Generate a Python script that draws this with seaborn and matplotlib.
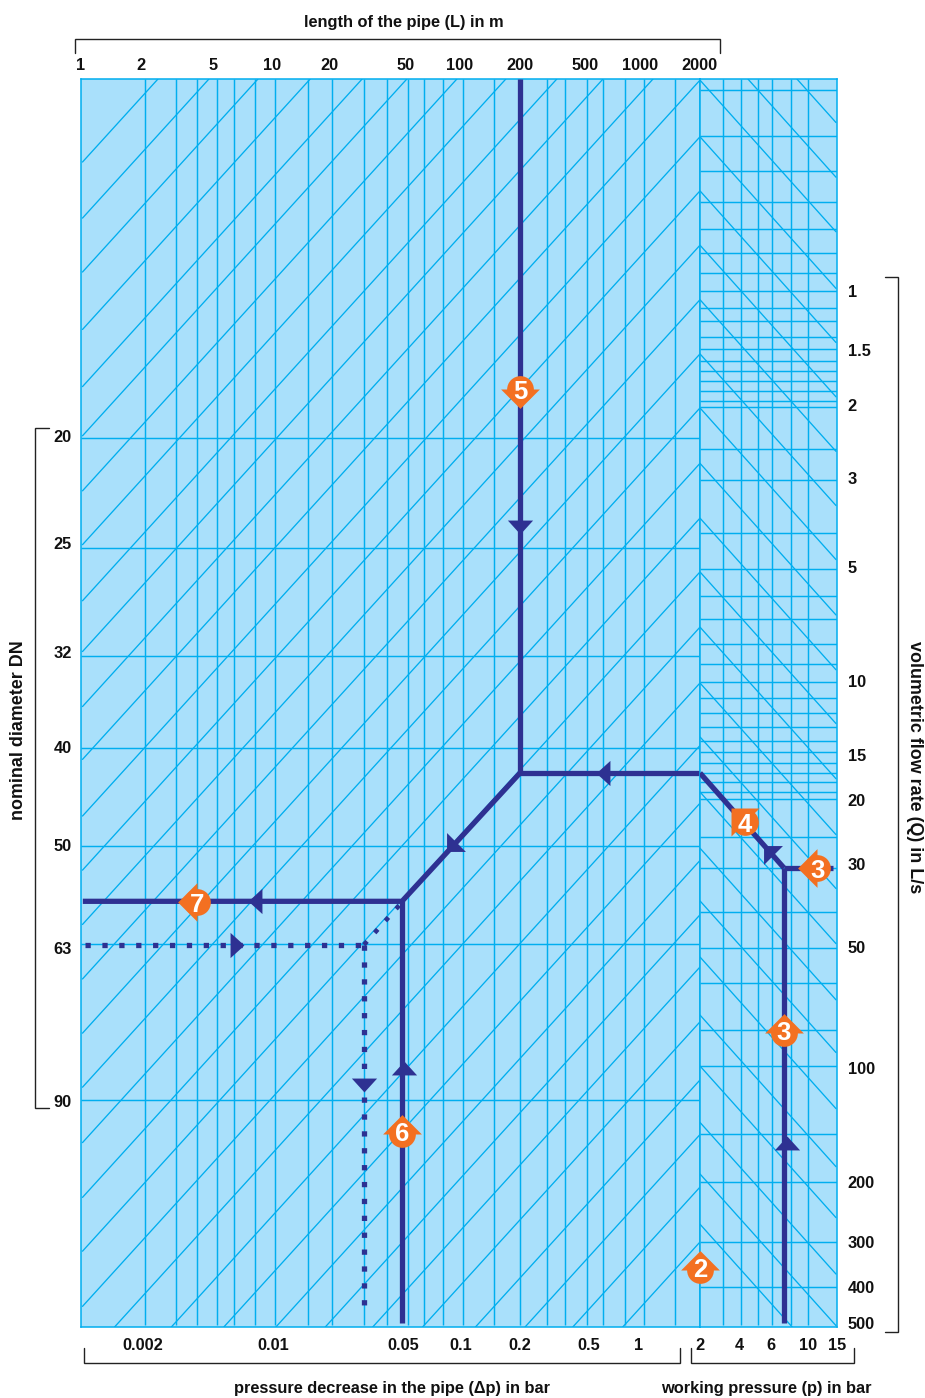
import numpy as np
import matplotlib
matplotlib.use("Agg")
import matplotlib.pyplot as plt
from matplotlib.lines import Line2D
import seaborn as sns

# ---- values ----
length_lines = [2, 3, 4, 5, 6, 8, 10, 15, 20, 30, 40, 50, 60, 80, 100, 150, 200, 300, 400, 500, 600, 800, 1000, 1500]
pressure_lines = [3, 4, 5, 6, 8, 10]
flow_lines = [0.3, 0.4, 0.5, 0.6, 0.7, 0.8, 0.9, 1, 1.1, 1.2, 1.3, 1.4, 1.5, 1.6, 1.7, 1.8, 1.9, 2, 2.5, 3, 4, 5, 6, 7, 8, 9,
              10, 11, 12, 13, 14, 15, 16, 17, 18, 19, 20, 25, 30, 40, 50, 60, 80, 100, 150, 200, 300, 400]
dn_flow_lines = [2.36, 4.39, 8.59, 14.6, 26.4, 48.8, 122.5]

diag_top_length = [2.37, 4.57, 8.27, 15.4, 29.3, 49.4, 93.4, 171, 351, 600, 1125]
diag_divider_flow = [0.282, 0.402, 0.562, 0.766, 1.05, 1.44, 2.01, 2.72, 3.69, 5.10, 7.31, 10.06, 14.4, 20.5, 28.7, 40.7,
                     55.2, 76.1, 108.7, 150.5, 207, 300]

right_top_pressure = [4.38, 8.65]
right_divider_flow = [0.282, 0.402, 0.562, 0.766, 1.05, 1.44, 2.01, 2.72, 3.69, 5.10, 7.31, 10.06, 13.7, 19, 26.7, 37.2,
                      52.4, 73, 100, 140, 190.6, 266]

length_labels = ["1", "2", "5", "10", "20", "50", "100", "200", "500", "1000", "2000"]
length_label_at = [1, 1.92, 4.78, 9.66, 19.3, 48.8, 96.6, 200, 490, 954, 1980]
dp_labels = ["0.002", "0.01", "0.05", "0.1", "0.2", "0.5", "1"]
dp_label_at = [1.96, 9.78, 47.4, 98, 200, 512, 943]
p_labels = ["2", "4", "6", "10", "15"]
p_label_at = [2, 3.9, 5.95, 10, 15]
flow_labels = ["1", "1.5", "2", "3", "5", "10", "15", "20", "30", "50", "100", "200", "300", "400", "500"]
flow_label_at = [1, 1.41, 1.96, 2.97, 4.94, 9.95, 15.3, 20.1, 29.3, 49.7, 101.4, 200, 300, 400, 489]
dn_labels = ["20", "25", "32", "40", "50", "63", "90"]
dn_label_at = [2.33, 4.26, 8.39, 14.5, 26.2, 50, 123]

# routes (length or pressure, flow)
route_right_h_p, route_right_h_q = [14.2, 7.2], [30, 30]
route_right_v_p, route_right_v_q = [7.2, 7.2], [30, 489]
route_right_d_p, route_right_d_q = [7.2, 2], [30, 17]
route_main_L = [2000, 200, 200]
route_main_Q = [17, 17, 0.28]
route_low_L = [1.02, 46.9, 200]
route_low_Q = [37.3, 37.3, 17]
route_down_L, route_down_Q = [46.9, 46.9], [37.3, 489]
dot_h_L, dot_h_Q = [1.045, 30], [49, 49]
dot_v_L, dot_v_Q = [30, 30], [49, 462]
dot_d_L, dot_d_Q = [30, 45.9], [49, 38.1]

# ---- nomogram scale knots: printed value -> position along the sheet ----
x_val = np.array([1, 2, 3, 4, 5, 6, 8, 10, 15, 20, 30, 40, 50, 60, 80, 100, 150, 200, 300, 400, 500, 600, 800, 1000, 1500, 2000], float)
x_pos = np.array([81, 145, 176, 197, 217, 234, 255, 275, 308, 332, 364, 387, 408, 424, 443, 463, 494, 520, 547, 565, 587, 603, 625, 644, 675, 700], float)
p_val = np.array([2, 3, 4, 5, 6, 8, 10, 15], float)
p_pos = np.array([700, 723, 741, 758, 772, 791, 808, 837], float)
y_val = np.array([0.28, 0.3, 0.4, 0.5, 0.6, 0.7, 0.8, 0.9, 1, 1.1, 1.2, 1.3, 1.4, 1.5, 1.6, 1.7, 1.8, 1.9, 2, 2.5, 3, 4, 5, 6, 7, 8, 9,
                  10, 11, 12, 13, 14, 15, 16, 17, 18, 19, 20, 25, 30, 40, 50, 60, 80, 100, 150, 200, 300, 400, 500], float)
y_pos = np.array([79, 90, 136, 171, 202, 229, 253, 273, 291, 308, 321, 337, 349, 361, 371, 381, 391, 401, 407, 449, 480, 533, 569, 596, 619, 644, 664,
                  682, 698, 713, 727, 741, 752, 763, 773, 782, 792, 799, 837, 868, 912, 948, 983, 1030, 1066, 1134, 1182, 1242, 1287, 1327], float)


def make_scale(vals, pos):
    lv = np.log10(vals)
    fwd = lambda v: np.interp(np.log10(np.maximum(np.asarray(v, float), 1e-9)), lv, pos)
    inv = lambda u: 10 ** np.interp(np.asarray(u, float), pos, lv)
    return fwd, inv


fx, ix = make_scale(x_val, x_pos)
fp, ip = make_scale(p_val, p_pos)
fy, iy = make_scale(y_val, y_pos)

sns.set_theme(style="white")
plt.rcParams["font.family"] = ["Liberation Sans", "DejaVu Sans"]
plt.rcParams["font.weight"] = "bold"

W, H = 925, 1398
BG, GRID, ROUTE, ORANGE, INK = "#A9E0FB", "#00AEEF", "#2E3192", "#F37021", "#111111"
FS = 11.8

fig = plt.figure(figsize=(W / 100, H / 100), dpi=100, facecolor="white")
ax = fig.add_axes([81 / W, 1 - 1327 / H, 619 / W, 1248 / H])
axr = fig.add_axes([700 / W, 1 - 1327 / H, 137 / W, 1248 / H])
ax.set_xscale("function", functions=(fx, ix))
axr.set_xscale("function", functions=(fp, ip))
for a in (ax, axr):
    a.set_yscale("function", functions=(fy, iy))
    a.set_facecolor(BG)
    a.set_ylim(500, 0.28)
    a.minorticks_off()
    for s in a.spines.values():
        s.set_color(GRID)
        s.set_linewidth(1.1)
ax.set_xlim(1, 2000)
axr.set_xlim(2, 15)

# thin grids
ax.vlines(length_lines, 0.28, 495, color=GRID, lw=1.05, zorder=1)
ax.hlines(dn_flow_lines, 1, 2000, color=GRID, lw=1.05, zorder=1)
axr.vlines(pressure_lines, 0.28, 495, color=GRID, lw=1.05, zorder=1)
axr.hlines(flow_lines, 2, 15, color=GRID, lw=1.05, zorder=1)


def clip_line(xa, ya, m, xmin, xmax):
    """ends of the straight rule y = ya + m (x - xa) inside the sheet"""
    xs = []
    for yb in (79.0, 1327.0):
        xs.append(xa + (yb - ya) / m)
    lo, hi = max(min(xs), xmin), min(max(xs), xmax)
    return [lo, hi], [ya + m * (lo - xa), ya + m * (hi - xa)]


DIAG_L, DIAG_R = -1.1, 1.115
left_anchors = ([(fx(v), 79.0) for v in diag_top_length]
                + [(700.0, fy(v)) for v in diag_divider_flow])
for xa, ya in left_anchors:
    xe, ye = clip_line(float(xa), float(ya), DIAG_L, 82.5, 700)
    ax.plot(ix(xe), iy(ye), color=GRID, lw=0.95, zorder=1)
right_anchors = ([(fp(v), 79.0) for v in right_top_pressure] + [(700.0, fy(v)) for v in right_divider_flow])
for xa, ya in right_anchors:
    xe, ye = clip_line(float(xa), float(ya), DIAG_R, 700, 836)
    axr.plot(ip(xe), iy(ye), color=GRID, lw=0.95, zorder=1)


def route(a, xs, ys, dotted=False):
    sns.lineplot(x=xs, y=ys, ax=a, color=ROUTE, linewidth=3.8, sort=False, estimator=None, legend=False, zorder=3)
    ln = a.lines[-1]
    ln.set_solid_capstyle("butt")
    ln.set_solid_joinstyle("miter")
    if dotted:
        ln.set_linestyle((0, (1, 2.2)))
        ln.set_dash_capstyle("butt")


route(axr, route_right_h_p, route_right_h_q)
route(axr, route_right_v_p, route_right_v_q)
route(axr, route_right_d_p, route_right_d_q)
route(ax, route_main_L, route_main_Q)
route(ax, route_low_L, route_low_Q)
route(ax, route_down_L, route_down_Q)
route(ax, dot_h_L, dot_h_Q, True)
route(ax, dot_v_L, dot_v_Q, True)
sns.lineplot(x=dot_d_L, y=dot_d_Q, ax=ax, color=ROUTE, linewidth=3.3, sort=False, estimator=None, legend=False, zorder=3)
ax.lines[-1].set_linestyle((0, (1, 2.5)))
ax.lines[-1].set_dash_capstyle("butt")

# arrowheads
UP = [(-1, -0.55), (1, -0.55), (0, 0.55)]
DOWN = [(-1, 0.55), (1, 0.55), (0, -0.55)]
LEFT = [(0.55, -1), (0.55, 1), (-0.55, 0)]
RIGHT = [(-0.55, -1), (-0.55, 1), (0.55, 0)]
DL = [(-1, -1), (-1, 1), (1, -1)]
UL = [(-1, 1), (1, 1), (-1, -1)]


def mark(a, x, y, marker, s, color=ROUTE, z=4):
    sns.scatterplot(x=[x], y=[y], ax=a, marker=marker, s=s, color=color, linewidth=0, legend=False, zorder=z, clip_on=False)


for x, y, m in [(200, 3.87, DOWN), (600, 17, LEFT), (8, 37.3, LEFT), (6.26, 49, RIGHT), (30, 112, DOWN), (47.9, 101, UP)]:
    mark(ax, x, y, m, 330)
mark(ax, 92.5, 25.7, DL, 185)
mark(axr, 7.5, 158, UP, 330)
mark(axr, 6.09, 27.8, UL, 185)

# numbered badges
A_UP = [(-1, 0), (1, 0), (0, 1)]
A_DOWN = [(-1, 0), (1, 0), (0, -1)]
A_LEFT = [(0, -1), (0, 1), (-1, 0)]


def badge(a, x, y, n, arrow, s=780, lift=0):
    mark(a, x, y, "o", 370, ORANGE, 6)
    mark(a, x, y, arrow, s, ORANGE, 6)
    a.annotate(n, (x, y), xytext=(0, lift), textcoords="offset points", color="white", fontsize=18.5,
               fontweight="bold", ha="center", va="center_baseline", zorder=7, annotation_clip=False)


badge(ax, 200, 1.78, "5", A_DOWN)
badge(ax, 4, 37.5, "7", A_LEFT)
badge(ax, 46.9, 150, "6", A_UP, lift=2)
badge(axr, 11.4, 30, "3", A_LEFT)
badge(axr, 7.2, 81.5, "3", A_UP, lift=2)
badge(axr, 4.22, 22.9, "4", UL, 406)
badge(axr, 2, 359, "2", A_UP, lift=2)

# tick labels
ax.set_xticks(dp_label_at, dp_labels)
ax.set_yticks(dn_label_at, dn_labels)
axr.set_xticks(p_label_at, p_labels)
axr.yaxis.tick_right()
axr.set_yticks(flow_label_at, flow_labels)
ax.tick_params(axis="both", length=0, labelsize=FS, labelcolor=INK)
axr.tick_params(axis="both", length=0, labelsize=FS, labelcolor=INK)
ax.tick_params(axis="x", pad=7.8)
axr.tick_params(axis="x", pad=7.8)
ax.tick_params(axis="y", pad=6.8)
axr.tick_params(axis="y", pad=7.6)
for lab in axr.get_yticklabels() + ax.get_yticklabels() + ax.get_xticklabels() + axr.get_xticklabels():
    lab.set_fontweight("bold")
axt = ax.twiny()
axt.set_xscale("function", functions=(fx, ix))
axt.set_xlim(1, 2000)
axt.set_xticks(length_label_at, length_labels)
axt.tick_params(axis="x", length=0, labelsize=FS, labelcolor=INK, pad=4.4)
for lab in axt.get_xticklabels():
    lab.set_fontweight("bold")
for s in axt.spines.values():
    s.set_visible(False)


def page_text(x, y, t, rot=0, size=FS):
    fig.text(x / W, 1 - y / H, t, ha="center", va="center", rotation=rot, fontsize=size, fontweight="bold", color=INK)


page_text(404, 22, "length of the pipe (L) in m")
page_text(392, 1388, "pressure decrease in the pipe (\u0394p) in bar")
page_text(766, 1388, "working pressure (p) in bar")
page_text(19, 730, "nominal diameter DN", 90, 12.9)
page_text(914, 767, "volumetric flow rate (Q) in L/s", -90, 12.9)


def bracket(xs, ys):
    fig.add_artist(Line2D(np.array(xs) / W, 1 - np.array(ys) / H, color="#222222", lw=1.0,
                          solid_joinstyle="miter", transform=fig.transFigure))


bracket([75, 75, 720, 720], [53, 38.5, 38.5, 53])
bracket([885, 897.5, 897.5, 885], [277, 277, 1332, 1332])
bracket([49, 35, 35, 49], [428, 428, 1108, 1108])
bracket([84, 84, 680, 680], [1348, 1363, 1363, 1348])
bracket([691, 691, 854, 854], [1348, 1363, 1363, 1348])

fig.savefig("out.png", dpi=100)
